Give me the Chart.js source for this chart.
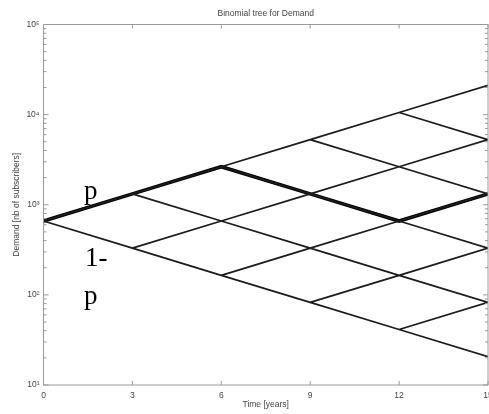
<!DOCTYPE html>
<html>
<head>
<meta charset="utf-8">
<script src="https://cdn.jsdelivr.net/npm/chart.js@4/dist/chart.umd.min.js"></script>
<style>
    body { margin: 0; background: #fff; }
    canvas { display: block; }
</style>
</head>
<body>
<canvas id="treeChart" width="489" height="414"></canvas>
<script>
// time steps of the lattice (years)
const times = [0, 3, 6, 9, 12, 15];
// demand at each node, top node first, one list per time step
const nodeValues = [
    [660],
    [1320, 330],
    [2640, 660, 165],
    [5280, 1320, 330, 82.5],
    [10560, 2640, 660, 165, 41.3],
    [21120, 5280, 1320, 330, 82.5, 20.6]
];
// highlighted scenario (thick line)
const highlightPath = [660, 1320, 2640, 1320, 660, 1320];
const xTickValues = [0, 3, 6, 9, 12, 15];
const yTickValues = [10, 100, 1000, 10000, 100000];
const yTickLabels = ["10¹", "10²", "10³", "10⁴", "10⁵"];
const minorFactors = [2, 3, 4, 5, 6, 7, 8, 9];

const axisColor = "#9a9a9a";
const labelColor = "#444";
const smallFont = "Liberation Sans";

function buildEdges() {
    const pts = [];
    for (let k = 0; k < nodeValues.length - 1; k++) {
        nodeValues[k].forEach((v, i) => {
            [i, i + 1].forEach(j => {
                pts.push({ x: times[k], y: v });
                pts.push({ x: times[k + 1], y: nodeValues[k + 1][j] });
                pts.push({ x: times[k + 1], y: null });
            });
        });
    }
    return pts;
}

const framePlugin = {
    id: "frame",
    afterDraw(chart) {
        const { ctx, chartArea: a, scales } = chart;
        const xs = scales.x, ys = scales.y;
        ctx.save();
        ctx.strokeStyle = axisColor;
        ctx.lineWidth = 1;
        ctx.strokeRect(a.left, a.top, a.right - a.left, a.bottom - a.top);

        ctx.beginPath();
        xTickValues.forEach(v => {
            const px = xs.getPixelForValue(v);
            ctx.moveTo(px, a.bottom); ctx.lineTo(px, a.bottom - 4);
            ctx.moveTo(px, a.top); ctx.lineTo(px, a.top + 4);
        });
        yTickValues.forEach((v, n) => {
            const py = ys.getPixelForValue(v);
            ctx.moveTo(a.left, py); ctx.lineTo(a.left + 5, py);
            ctx.moveTo(a.right, py); ctx.lineTo(a.right - 5, py);
            if (n < yTickValues.length - 1) {
                minorFactors.forEach(m => {
                    const pm = ys.getPixelForValue(v * m);
                    ctx.moveTo(a.left, pm); ctx.lineTo(a.left + 3, pm);
                    ctx.moveTo(a.right, pm); ctx.lineTo(a.right - 3, pm);
                });
            }
        });
        ctx.stroke();

        ctx.fillStyle = labelColor;
        ctx.font = "8.5px " + smallFont;
        ctx.textAlign = "center";
        ctx.textBaseline = "middle";
        const cx = (a.left + a.right) / 2;
        ctx.fillText("Binomial tree for Demand", cx, 14);
        ctx.fillText("Time [years]", cx, 405);

        ctx.save();
        ctx.translate(17, (a.top + a.bottom) / 2);
        ctx.rotate(-Math.PI / 2);
        ctx.fillText("Demand [nb of subscribers]", 0, 0);
        ctx.restore();

        ctx.fillStyle = "#000";
        ctx.font = "27px 'Liberation Serif'";
        ctx.textAlign = "left";
        ctx.textBaseline = "alphabetic";
        ctx.fillText("p", 84, 199);
        ctx.fillText("1-", 85, 266);
        ctx.fillText("p", 84, 304);
        ctx.restore();
    }
};

new Chart(document.getElementById("treeChart"), {
    type: "line",
    data: {
        datasets: [
            {
                data: buildEdges(),
                borderColor: "#1c1c1c",
                borderWidth: 1.8,
                pointRadius: 0,
                spanGaps: false,
                tension: 0
            },
            {
                data: highlightPath.map((v, i) => ({ x: times[i], y: v })),
                borderColor: "#000",
                borderWidth: 3.6,
                pointRadius: 0,
                tension: 0
            }
        ]
    },
    options: {
        responsive: false,
        animation: false,
        layout: { padding: { top: 24.5, right: 1, left: 0, bottom: 0 } },
        plugins: { legend: { display: false }, tooltip: { enabled: false } },
        scales: {
            x: {
                type: "linear",
                min: 0,
                max: 15,
                afterBuildTicks: s => { s.ticks = xTickValues.map(v => ({ value: v })); },
                afterFit: s => { s.height = 29; s.paddingLeft = 0; s.paddingRight = 0; },
                grid: { display: false, drawTicks: false },
                border: { display: false },
                ticks: { padding: 6, color: labelColor, font: { family: smallFont, size: 8.5 }, maxRotation: 0 }
            },
            y: {
                type: "logarithmic",
                min: 10,
                max: 100000,
                afterBuildTicks: s => { s.ticks = yTickValues.map(v => ({ value: v })); },
                afterFit: s => { s.width = 43.5; s.paddingTop = 0; s.paddingBottom = 0; },
                grid: { display: false, drawTicks: false },
                border: { display: false },
                ticks: {
                    padding: 4,
                    color: labelColor,
                    font: { family: smallFont, size: 8.5 },
                    callback: v => yTickLabels[yTickValues.indexOf(v)] || ""
                }
            }
        }
    },
    plugins: [framePlugin]
});
</script>
</body>
</html>
